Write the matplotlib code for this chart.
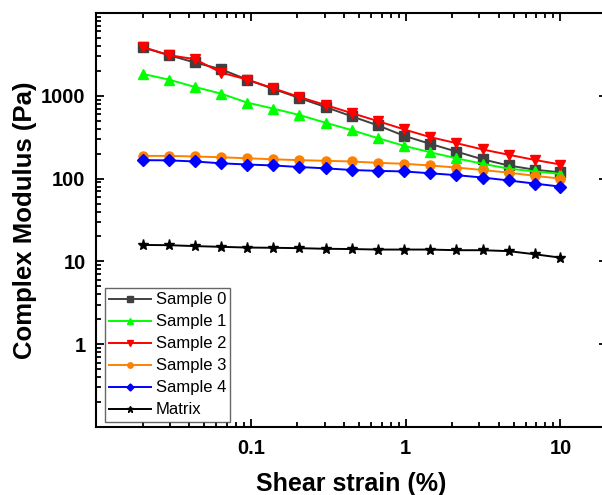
import matplotlib
matplotlib.use('Agg')
import matplotlib.pyplot as plt
from matplotlib.ticker import LogLocator, NullFormatter, FixedLocator, FixedFormatter

plt.rcParams['font.family'] = ['Liberation Sans', 'DejaVu Sans']

# shear strain (%)
strain = [0.02, 0.0295, 0.0435, 0.0642, 0.0947, 0.14, 0.206, 0.304, 0.449,
          0.662, 0.977, 1.44, 2.13, 3.14, 4.63, 6.83, 10.0]

sample0 = [3840, 3100, 2525, 2094, 1570, 1210, 940, 731, 565, 439, 329, 263,
           212, 171, 144, 128, 119]
sample1 = [1840, 1570, 1280, 1062, 828, 700, 586, 473, 385, 308, 249, 208,
           176, 151, 132, 122, 114]
sample2 = [3900, 3100, 2770, 1910, 1570, 1230, 967, 774, 618, 495, 393, 317,
           268, 225, 194, 168, 148]
sample3 = [188, 188, 185, 181, 176, 171, 167, 164, 161, 155, 151, 144, 136,
           127, 118, 108, 100]
sample4 = [167, 166, 161, 153, 148, 144, 138, 133, 127, 124, 122, 116, 110,
           103, 95, 87, 80]
matrix = [15.8, 15.7, 15.3, 15.0, 14.7, 14.6, 14.45, 14.2, 14.1, 13.9, 13.9,
          13.9, 13.65, 13.65, 13.3, 12.2, 11.1]

series = [
    ('Sample 0', sample0, '#404040', 's'),
    ('Sample 1', sample1, '#00FF00', '^'),
    ('Sample 2', sample2, '#FF0000', 'v'),
    ('Sample 3', sample3, '#FF8000', 'o'),
    ('Sample 4', sample4, '#0000FF', 'D'),
    ('Matrix', matrix, '#000000', '*'),
]

fig = plt.figure(figsize=(6.02, 4.95), dpi=100)
ax = fig.add_axes([96 / 602, 1 - 427 / 495, (607 - 96) / 602, (427 - 13) / 495])

for name, vals, col, mk in series:
    ms = 8 if mk == '*' else 6.5
    if mk == 'D':
        ms = 6
    ax.plot(strain, vals, color=col, marker=mk, markersize=ms, linewidth=1.4,
            label=name)

ax.set_xscale('log')
ax.set_yscale('log')
ax.set_xlim(0.01, 20)
ax.set_ylim(0.1, 10000)

ax.xaxis.set_major_locator(FixedLocator([0.1, 1, 10]))
ax.xaxis.set_major_formatter(FixedFormatter(['0.1', '1', '10']))
ax.xaxis.set_minor_locator(LogLocator(base=10, subs=range(2, 10), numticks=20))
ax.xaxis.set_minor_formatter(NullFormatter())
ax.yaxis.set_major_locator(FixedLocator([1, 10, 100, 1000]))
ax.yaxis.set_major_formatter(FixedFormatter(['1', '10', '100', '1000']))
ax.yaxis.set_minor_locator(LogLocator(base=10, subs=range(2, 10), numticks=20))
ax.yaxis.set_minor_formatter(NullFormatter())

ax.tick_params(which='both', direction='in', top=True, right=True, width=1.3)
ax.tick_params(which='major', length=6, labelsize=14.5)
ax.tick_params(which='minor', length=3.5)
ax.tick_params(axis='x', which='major', pad=9)
ax.tick_params(axis='y', which='major', pad=7.5)
for lab in ax.get_xticklabels() + ax.get_yticklabels():
    lab.set_fontweight('bold')
for sp in ax.spines.values():
    sp.set_linewidth(1.5)

ax.set_xlabel('Shear strain (%)', fontsize=18, fontweight='bold', labelpad=10)
ax.set_ylabel('Complex Modulus (Pa)', fontsize=18.5, fontweight='bold', labelpad=3)

leg = ax.legend(loc='lower left', bbox_to_anchor=(0.017, 0.013), fontsize=12,
                frameon=True, fancybox=False, edgecolor='#404040',
                handlelength=2.5, handletextpad=0.3, labelspacing=0.42,
                borderpad=0.25, borderaxespad=0, markerscale=0.6)
leg.get_frame().set_linewidth(1.0)

fig.savefig('out.png', dpi=100)
